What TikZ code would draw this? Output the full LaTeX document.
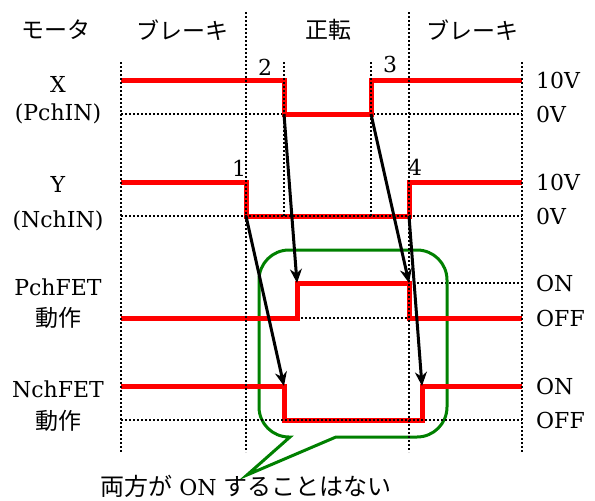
\documentclass[tikz,border=0pt]{standalone}
\usepackage{fontspec}
\setmainfont{DejaVu Serif}
\newfontfamily\jpfont{Noto Sans CJK JP}
\usetikzlibrary{positioning,arrows.meta}
\newcommand{\jp}[1]{{\jpfont\fontsize{24}{28}\selectfont #1}}

\begin{document}
\begin{tikzpicture}[x=1pt,y=-1pt,
    signal/.style={red,line width=5pt},
    level/.style={line width=2pt,dash pattern=on 2pt off 2pt},
    cause/.style={line width=3pt,-{Stealth[length=14pt,width=12pt]}},
    callout/.style={draw=green!50!black,line width=3pt},
    lbl/.style={inner sep=0pt,font=\fontsize{22}{27}\selectfont},
    jlbl/.style={inner sep=0pt,font=\jpfont\fontsize{23}{28}\selectfont}]
  \useasboundingbox (0,0) rectangle (595,501);

  \coordinate (xfall) at (284,114);
  \coordinate (xrise) at (371,114);
  \coordinate (yfall) at (246,216);
  \coordinate (yrise) at (409,216);
  \coordinate (pon) at (297,283);
  \coordinate (poff) at (409,283);
  \coordinate (ndown) at (284,386);
  \coordinate (nup) at (422,386);

  \node[jlbl] (motor) at (56,30) {モータ};
  \node[jlbl] (brake1) at (182,30) {ブレーキ};
  \node[jlbl] (fwd) at (328,30) {正転};
  \node[jlbl] (brake2) at (472,30) {ブレーキ};

  \node[lbl,anchor=base] (xname) at (58,92) {X};
  \node[lbl,anchor=base] (xsub) at (58,120) {(PchIN)};
  \node[lbl,anchor=base] (yname) at (58,192) {Y};
  \node[lbl,anchor=base] (ysub) at (58,227) {(NchIN)};
  \node[lbl,anchor=base] (pname) at (58,295) {PchFET};
  \node[jlbl] (psub) at (58,318) {動作};
  \node[lbl,anchor=base] (nname) at (58,397) {NchFET};
  \node[jlbl] (nsub) at (58,421) {動作};

  \draw[level] (121,114) -- (522,114);
  \draw[level] (pon) -- (522,283);
  \draw[level] (121,318) -- (522,318);

  \draw[callout] (290,437) [rounded corners=30pt] -- (259,437) -- (259,250)
    -- (447,250) -- (447,437) [sharp corners] -- (336,437) -- (247,475) -- cycle;

  \draw[signal] (121,80) -| (xfall) -- (xrise) |- (522,80);
  \draw[signal] (121,182) -| (yfall) -- (yrise) |- (522,182);
  \draw[signal] (121,318) -| (pon) -- (poff) |- (522,318);
  \draw[signal] (121,386) -- (ndown) -- (284,420) -- (422,420) -- (nup) -- (522,386);

  \draw[level] (121,216) -- (522,216);
  \draw[level] (121,420) -- (522,420);
  \draw[level] (121,62) -- (121,452);
  \draw[level] (246,12) -- (246,452);
  \draw[level] (284,62) -- (284,216);
  \draw[level] (371,62) -- (371,216);
  \draw[level] (409,12) -- (409,452);
  \draw[level] (522,62) -- (522,452);

  \draw[cause] (xfall) -- (pon);
  \draw[cause] (xrise) -- (poff);
  \draw[cause] (yfall) -- (ndown);
  \draw[cause] (yrise) -- (nup);

  \node[lbl] (n1) at (239,168) {1};
  \node[lbl] (n2) at (265,67) {2};
  \node[lbl] (n3) at (390,64) {3};
  \node[lbl] (n4) at (415,167) {4};

  \coordinate (xr) at (522,80);
  \coordinate (xl) at (522,114);
  \coordinate (yr) at (522,182);
  \coordinate (yl) at (522,216);
  \coordinate (pr) at (522,283);
  \coordinate (pl) at (522,318);
  \coordinate (nr) at (522,386);
  \coordinate (nl) at (522,420);
  \node[lbl,right=14pt of xr] {10V};
  \node[lbl,right=14pt of xl] {0V};
  \node[lbl,right=14pt of yr] {10V};
  \node[lbl,right=14pt of yl] {0V};
  \node[lbl,right=14pt of pr] {ON};
  \node[lbl,right=14pt of pl] {OFF};
  \node[lbl,right=14pt of nr] {ON};
  \node[lbl,right=14pt of nl] {OFF};

  \node[lbl,anchor=base] (note) at (246,495) {\jp{両方が} ON \jp{することはない}};
\end{tikzpicture}
\end{document}
